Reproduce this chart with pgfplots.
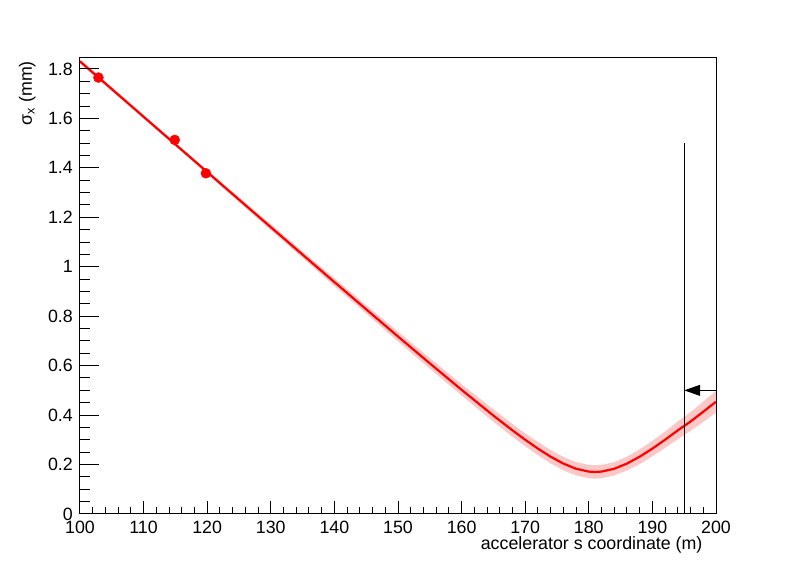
\documentclass[border=0pt]{standalone}
\usepackage{fontspec}
\setmainfont{Liberation Sans}
\usepackage{pgfplots}
\pgfplotsset{compat=1.18}
\usetikzlibrary{arrows.meta}
\definecolor{bandpink}{RGB}{251,200,200}
\definecolor{rootred}{RGB}{255,0,0}
\begin{document}
\begin{tikzpicture}[x=1pt,y=1pt]
\path[use as bounding box] (-80,-58) rectangle (716,514);
\pgfplotsset{commonax/.style={
  width=636pt, height=456.7pt, scale only axis, at={(0,0)}, anchor=south west,
  xmin=100, xmax=200, ymin=0, ymax=1.847,
  tick align=inside, xtick pos=bottom, ytick pos=left,
  tick style={black, line width=1pt},
  axis line style={line width=1pt},
  font=\fontsize{17.8}{21}\selectfont,
  ticklabel style={font=\fontsize{17.8}{21}\selectfont},
  /pgf/number format/assume math mode=true,
}}
\begin{axis}[commonax,
  xtick={100,110,120,130,140,150,160,170,180,190,200}, minor x tick num=4,
  major tick length=13pt, minor tick length=7pt,
  ytick=\empty,
  xticklabel style={inner sep=0pt, yshift=-6.5pt},
  xlabel={accelerator s coordinate (m)},
  xlabel style={at={(axis description cs:0.979,-0.0788)}, anchor=base east, inner sep=0pt},
]
\addplot[fill=bandpink, draw=none] coordinates {
(100,1.8394) (105,1.7264) (110,1.6135) (115,1.5017) (120,1.3910) (125,1.2804)
(130,1.1720) (135,1.0619) (140,0.9540) (145,0.8447) (150,0.7379) (155,0.6302)
(160,0.5252) (165,0.4231) (168,0.3643) (170,0.3263) (172,0.2914) (174,0.2588)
(176,0.2309) (178,0.2099) (180,0.1985) (181,0.1970) (182,0.1985) (184,0.2099)
(186,0.2319) (188,0.2618) (190,0.2954) (192,0.3333) (194,0.3743) (196,0.4119)
(198,0.4546) (200,0.4981)
(200,0.4101) (198,0.3726) (196,0.3359) (194,0.3023) (192,0.2673) (190,0.2334)
(188,0.2018) (186,0.1759) (184,0.1559) (182,0.1445) (181,0.1430) (180,0.1445)
(178,0.1559) (176,0.1769) (174,0.2048) (172,0.2374) (170,0.2743) (168,0.3123)
(165,0.3731) (160,0.4792) (155,0.5882) (150,0.6979) (145,0.8107) (140,0.9220)
(135,1.0359) (130,1.1480) (125,1.2624) (120,1.3750) (115,1.4877) (110,1.5995)
(105,1.7104) (100,1.8214)
};
\addplot[rootred, line width=2.2pt] coordinates {
(100,1.8304) (105,1.7184) (110,1.6065) (115,1.4947) (120,1.3830) (125,1.2714)
(130,1.1600) (135,1.0489) (140,0.9380) (145,0.8277) (150,0.7179) (155,0.6092)
(160,0.5022) (165,0.3981) (168,0.3383) (170,0.3003) (172,0.2644) (174,0.2318)
(176,0.2039) (178,0.1829) (180,0.1715) (181,0.1700) (182,0.1715) (184,0.1829)
(186,0.2039) (188,0.2318) (190,0.2644) (192,0.3003) (194,0.3383) (196,0.3739)
(198,0.4136) (200,0.4541)
};
\addplot[only marks, mark=*, mark size=5pt, rootred] coordinates {
(102.9,1.765) (114.9,1.513) (119.8,1.378)
};
\draw[black, line width=1pt] (axis cs:195,0) -- (axis cs:195,1.5);
\draw[black, line width=1pt, -{Triangle[length=16pt,width=11pt]}] (axis cs:200,0.5) -- (axis cs:195,0.5);
\end{axis}
\begin{axis}[commonax,
  xtick=\empty,
  ytick={0,0.2,0.4,0.6,0.8,1,1.2,1.4,1.6,1.8}, minor y tick num=3,
  major tick length=19pt, minor tick length=10pt,
  yticklabel style={inner sep=0pt, xshift=-7pt},
  ylabel={σ\textsubscript{x} (mm)},
  ylabel style={at={(axis description cs:-0.0755,0.992)}, anchor=base east, inner sep=0pt},
]
\end{axis}
\end{tikzpicture}
\end{document}
